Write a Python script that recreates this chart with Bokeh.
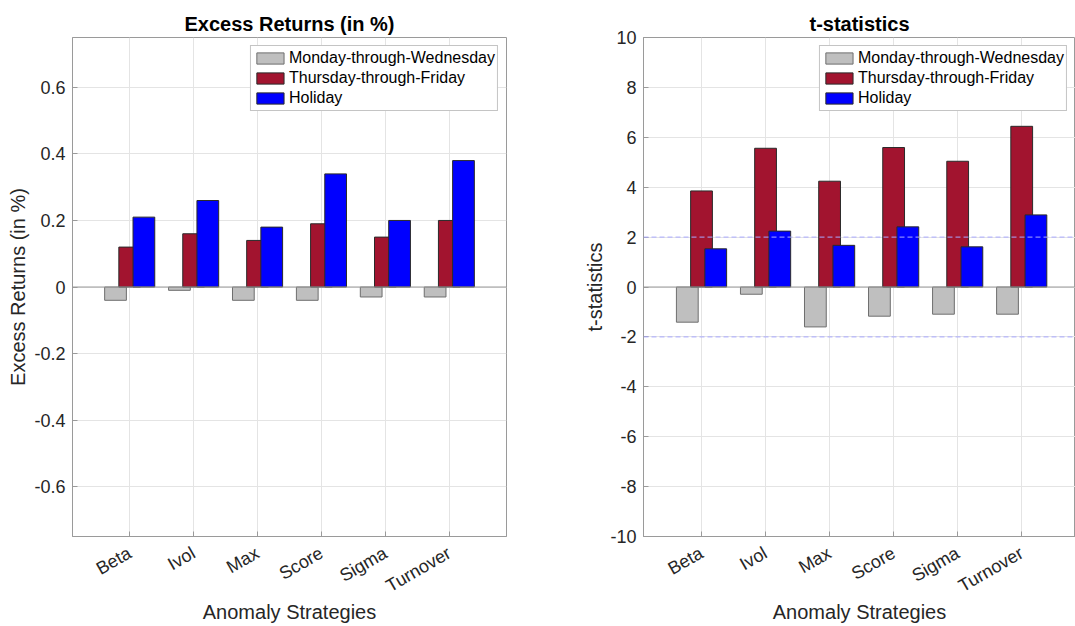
import math
from bokeh.plotting import figure
from bokeh.layouts import row
from bokeh.models import (FixedTicker, CustomJSTickFormatter, Span, Range1d,
                          ColumnDataSource, Legend, LegendItem)
from bokeh.embed import file_html
from bokeh.resources import INLINE

categories = ["Beta", "Ivol", "Max", "Score", "Sigma", "Turnover"]
series_names = ["Monday-through-Wednesday", "Thursday-through-Friday", "Holiday"]

ret_mon_wed = [-0.04, -0.01, -0.04, -0.04, -0.03, -0.03]
ret_thu_fri = [0.12, 0.16, 0.14, 0.19, 0.15, 0.20]
ret_holiday = [0.21, 0.26, 0.18, 0.34, 0.20, 0.38]

t_mon_wed = [-1.41, -0.29, -1.60, -1.17, -1.09, -1.09]
t_thu_fri = [3.85, 5.56, 4.24, 5.59, 5.04, 6.44]
t_holiday = [1.53, 2.24, 1.67, 2.41, 1.61, 2.89]

ret_ticks = [-0.6, -0.4, -0.2, 0.0, 0.2, 0.4, 0.6]
t_ticks = [-10, -8, -6, -4, -2, 0, 2, 4, 6, 8, 10]
t_threshold = 2

FONT = "Liberation Sans"
TXT = "#262626"
AX = "#9a9a9a"
colors = ["#BFBFBF", "#A2142F", "#0000FF"]
edges = ["#6e6e6e", "#2a2a2a", "#2a2a2a"]
offsets = [-0.222, 0.0, 0.222]
BAR_W = 0.34
H = 626


def make_fig(title, ylabel, series, yr, yticks, fmt_js, width, xr, bl, br, ylab_standoff):
    p = figure(width=width, height=H, output_backend="svg", toolbar_location=None,
               x_range=Range1d(*xr), y_range=Range1d(*yr),
               min_border_left=bl, min_border_right=br,
               min_border_top=37, min_border_bottom=89)
    p.title.text = title
    p.title.text_font = FONT
    p.title.text_font_size = "20px"
    p.title.text_font_style = "bold"
    p.title.text_color = "#000000"
    p.title.align = "center"
    p.title.standoff = 6
    p.outline_line_color = AX
    p.outline_line_width = 1
    p.background_fill_color = "white"
    p.border_fill_color = "white"

    items = []
    xs = list(range(1, len(categories) + 1))
    for i, vals in enumerate(series):
        src = ColumnDataSource(dict(x=[x + offsets[i] for x in xs], top=vals))
        r = p.vbar(x="x", top="top", bottom=0, width=BAR_W, source=src,
                   fill_color=colors[i], line_color=edges[i], line_width=1)
        items.append(LegendItem(label=series_names[i], renderers=[r]))

    p.add_layout(Span(location=0, dimension="width", line_color=AX, line_width=1))

    leg = Legend(items=items, location="top_right", margin=8,
                 label_text_font=FONT, label_text_font_size="16px",
                 label_text_color="#000000", glyph_width=34, glyph_height=14,
                 label_height=20, label_standoff=2, padding=2, spacing=0,
                 border_line_color="#8a8a8a", border_line_width=1,
                 background_fill_alpha=1.0)
    p.add_layout(leg, "center")

    xa = p.xaxis[0]
    xa.ticker = FixedTicker(ticks=xs)
    xa.major_label_overrides = {i + 1: c for i, c in enumerate(categories)}
    xa.major_label_orientation = math.pi / 6
    xa.axis_label = "Anomaly Strategies"

    ya = p.yaxis[0]
    ya.ticker = FixedTicker(ticks=yticks)
    ya.formatter = CustomJSTickFormatter(code=fmt_js)
    ya.axis_label = ylabel

    for ax in (xa, ya):
        ax.axis_line_color = AX
        ax.major_tick_line_color = AX
        ax.major_tick_in = 5
        ax.major_tick_out = 0
        ax.minor_tick_line_color = None
        ax.major_label_text_font = FONT
        ax.major_label_text_font_size = "18px"
        ax.major_label_text_color = TXT
        ax.axis_label_text_font = FONT
        ax.axis_label_text_font_size = "20px"
        ax.axis_label_text_font_style = "normal"
        ax.axis_label_text_color = TXT

    xa.major_label_standoff = 15
    xa.axis_label_standoff = -6
    ya.major_label_standoff = 7
    ya.axis_label_standoff = ylab_standoff

    p.xgrid.ticker = FixedTicker(ticks=xs)
    p.ygrid.ticker = FixedTicker(ticks=yticks)
    for g in (p.xgrid[0], p.ygrid[0]):
        g.grid_line_color = "#e4e4e4"
        g.grid_line_width = 1
    return p


p1 = make_fig("Excess Returns (in %)", "Excess Returns (in %)",
              [ret_mon_wed, ret_thu_fri, ret_holiday], (-0.75, 0.75), ret_ticks,
              "return (Math.round(tick*10)/10).toString();",
              580, (0.105, 6.895), 72, 74, 2)

p2 = make_fig("t-statistics", "t-statistics",
              [t_mon_wed, t_thu_fri, t_holiday], (-10, 10), t_ticks,
              "return Math.round(tick).toString();",
              495, (0.094, 6.84), 63, 0, 1)

for lv in (t_threshold, -t_threshold):
    p2.add_layout(Span(location=lv, dimension="width", line_color="#a9a9ff",
                       line_width=1, line_dash="5 3"))

layout = row(p1, p2)
open("out.html", "w").write(file_html(layout, INLINE))
